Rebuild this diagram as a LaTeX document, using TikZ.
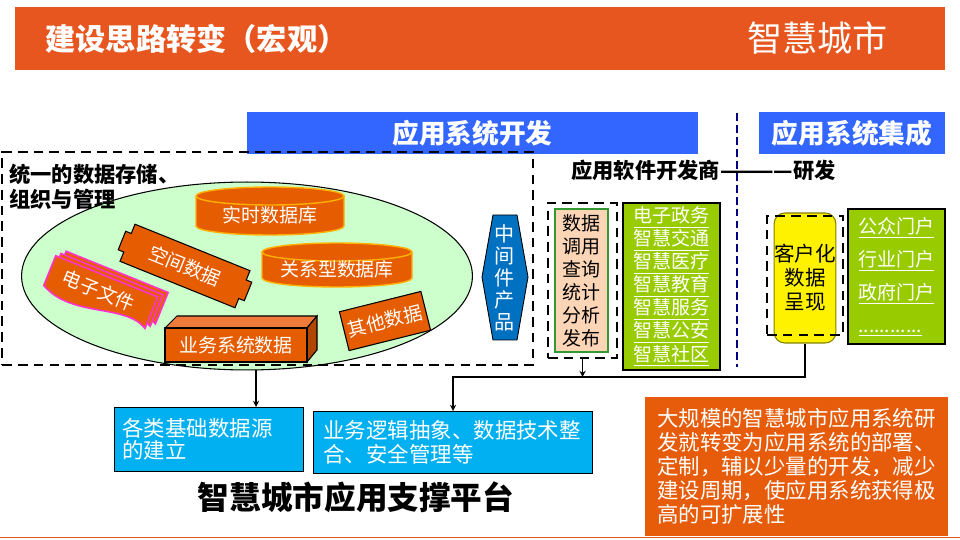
\documentclass[tikz,border=0pt]{standalone}
\usepackage{fontspec}
\setmainfont{Noto Sans CJK SC}
\usetikzlibrary{shapes.geometric}
\definecolor{headorange}{HTML}{E8561F}
\definecolor{dataorange}{HTML}{E65C00}
\definecolor{noteorange}{HTML}{E65C0A}
\definecolor{barblue}{HTML}{3366FF}
\definecolor{poolgreen}{HTML}{CCFFCC}
\definecolor{midblue}{HTML}{0070C0}
\definecolor{callbeige}{HTML}{FBD5B5}
\definecolor{callgreen}{HTML}{339933}
\definecolor{appgreen}{HTML}{99CC00}
\definecolor{basecyan}{HTML}{00B0F0}
\definecolor{sepnavy}{HTML}{000080}
\definecolor{cylrim}{HTML}{FFB000}
\definecolor{filepink}{HTML}{FF33CC}
\definecolor{cubetop}{HTML}{EE7B3A}
\definecolor{cubeside}{HTML}{B04600}
\definecolor{custolive}{HTML}{808000}
\newcommand{\pxu}{0.5690pt}
\newcommand{\dbcyl}[6]{\filldraw[cylbody] (#1-#4,#2) -- (#1-#4,#3) arc[start angle=180,end angle=0,x radius=#4,y radius=9] -- (#1+#4,#2) -- cycle;
  \filldraw[cylbody] (#1,#2) ellipse[x radius=#4,y radius=9];
  \node[datatext] (#5) at (#1,{(#2+#3)/2+4}) {#6};}
\newcommand{\filesheet}[2]{\filldraw[efile] (-55+#1,-18+#2) -- (55+#1,-18+#2) -- (55+#1,16+#2) .. controls (28+#1,0+#2) and (-18+#1,34+#2) .. (-55+#1,14+#2) -- cycle;}
\tikzset{
  headtext/.style={text=white, inner sep=0pt},
  bluebar/.style={fill=barblue, text=white, inner sep=0pt, font={\fontsize{15.2pt}{18pt}\selectfont\bfseries}},
  zone/.style={draw, line width=1.1pt, dash pattern=on 5.5pt off 3.5pt, inner sep=0pt},
  zonelabel/.style={inner sep=0pt, align=left, font={\fontsize{12.1pt}{14.2pt}\selectfont\bfseries}},
  datatext/.style={text=white, inner sep=0pt, font={\fontsize{10.8pt}{13.1pt}\selectfont}},
  datashape/.style={fill=dataorange, draw=black, line width=0.6pt},
  cylbody/.style={fill=dataorange, draw=cylrim, line width=0.8pt},
  efile/.style={fill=dataorange, draw=filepink, line width=0.9pt},
  cubeface/.style={draw=black, line width=0.6pt},
  midtext/.style={text=white, inner sep=0pt, align=center, font={\fontsize{11.4pt}{12.5pt}\selectfont}},
  listbox/.style={fill=appgreen, draw=black, line width=0.6pt, text=white, inner sep=0pt, align=center, font={\fontsize{10.8pt}{13.1pt}\selectfont}},
  cyanbox/.style={fill=basecyan, draw=black, line width=0.6pt, text=white, align=left, inner ysep=0pt, font={\fontsize{12.2pt}{12.5pt}\selectfont}},
  notebox/.style={fill=noteorange, text=white, align=left, inner sep=0pt, font={\fontsize{12.2pt}{13.7pt}\selectfont}},
  sepline/.style={sepnavy, line width=1.6pt, dash pattern=on 4.5pt off 2.3pt},
  link/.style={draw, line width=0.6pt, -stealth}
}
\begin{document}
\begin{tikzpicture}[x=0.02cm, y=-0.02cm]
\useasboundingbox (0,0) rectangle (960,540);
\fill[headorange] (15,7) rectangle (945,70);
\node[headtext, anchor=west, font={\fontsize{17.2pt}{20pt}\selectfont\bfseries}] (title) at (45,39) {建设思路转变（宏观）};
\node[headtext, anchor=east, font={\fontsize{20pt}{24pt}\selectfont}] (brand) at (888,38) {智慧城市};

\node[bluebar, minimum width={451*\pxu}, minimum height={42*\pxu}] (devbar) at (472.5,133) {应用系统开发};
\node[bluebar, minimum width={186*\pxu}, minimum height={42*\pxu}] (intbar) at (852,133) {应用系统集成};
\draw[sepline] (737,113) -- (737,367);

\node[ellipse, fill=poolgreen, draw, line width=0.6pt, minimum width={451*\pxu}, minimum height={188*\pxu}] (pool) at (247,276) {};
\node[zonelabel, anchor=north west] (storelabel) at (9,164) {统一的数据存储、\\组织与管理};
\dbcyl{270}{196}{226}{74}{rtdb}{实时数据库}
\dbcyl{337}{252}{278}{75}{reldb}{关系型数据库}

\begin{scope}[shift={(185,266)}, rotate=-22]
  \filldraw[datashape] (-62,-20) -- (62,-20) -- (62,-10) -- (68,-10) -- (68,10) -- (62,10) -- (62,20) -- (-62,20) -- (-62,10) -- (-68,10) -- (-68,-10) -- (-62,-10) -- cycle;
  \node[datatext, rotate=-22] (spatial) at (0,0) {空间数据};
\end{scope}

\begin{scope}[shift={(100,293)}, rotate=-22]
  \filesheet{8}{-8}
  \filesheet{4}{-4}
  \filesheet{0}{0}
  \node[datatext, rotate=-22] (efiles) at (-2,-2) {电子文件};
\end{scope}

\filldraw[cubeface, fill=cubetop] (165,328) -- (177,316) -- (317,316) -- (307,328) -- cycle;
\filldraw[cubeface, fill=cubeside] (307,328) -- (317,316) -- (317,350) -- (307,362) -- cycle;
\node[datashape, datatext, draw=black, minimum width={142*\pxu}, minimum height={34*\pxu}] (bizdata) at (236,345) {业务系统数据};
\node[datashape, datatext, draw=black, rotate=14, minimum width={84*\pxu}, minimum height={40*\pxu}] (otherdata) at (385,321) {其他数据};

\filldraw[fill=midblue, draw=black, line width=0.5pt] (493,215) -- (517,215) -- (528,277) -- (517,340) -- (493,340) -- (482,277) -- cycle;
\node[midtext] (midware) at (505,278) {中\\间\\件\\产\\品};

\node[zone, minimum width={531*\pxu}, minimum height={213*\pxu}] (storezone) at (267.5,258.5) {};

\node[zonelabel, anchor=west] (devco) at (571,170) {应用软件开发商————研发};

\node[fill=callbeige, draw=callgreen, line width=0.6pt, inner sep=0pt, align=center, minimum width={53*\pxu}, minimum height={143*\pxu}, font={\fontsize{10.8pt}{13.1pt}\selectfont}] (callbox) at (581.5,280.5) {数据\\调用\\查询\\统计\\分析\\发布};
\node[zone, minimum width={69*\pxu}, minimum height={155*\pxu}] (calldash) at (582.5,280.5) {};
\node[listbox, minimum width={97*\pxu}, minimum height={167*\pxu}] (applist) at (671.5,286.5) {\underline{电子政务}\\\underline{智慧交通}\\\underline{智慧医疗}\\\underline{智慧教育}\\\underline{智慧服务}\\\underline{智慧公安}\\\underline{智慧社区}};

\node[fill=yellow, draw=custolive, line width=0.6pt, rounded corners=6pt, inner sep=0pt, align=center, minimum width={60*\pxu}, minimum height={130*\pxu}, font={\fontsize{11.7pt}{13.6pt}\selectfont}] (custbox) at (805,278) {客户化\\数据\\呈现};
\node[zone, minimum width={76*\pxu}, minimum height={119*\pxu}] (custdash) at (805,275.5) {};
\node[listbox, align=left, minimum width={97*\pxu}, minimum height={135*\pxu}, font={\fontsize{10.8pt}{18.8pt}\selectfont}] (portals) at (896.5,276.5) {\underline{公众门户}\\\underline{行业门户}\\\underline{政府门户}\\\underline{............}};

\node[cyanbox, anchor=north west, text width=98.4pt, minimum height={64*\pxu}, inner xsep={8*\pxu}] (basebox) at (114,407) {各类基础数据源\\的建立};
\node[cyanbox, anchor=north west, text width=147.4pt, minimum height={62*\pxu}, inner xsep={10*\pxu}, font={\fontsize{12.2pt}{14pt}\selectfont}] (logicbox) at (313,411) {业务逻辑抽象、数据技术整\\合、安全管理等};
\node[inner sep=0pt, font={\fontsize{18pt}{21pt}\selectfont\bfseries}] (platform) at (356,497) {智慧城市应用支撑平台};

\node[notebox, minimum width={303*\pxu}, minimum height={139*\pxu}] (note) at (796.5,466.5) {大规模的智慧城市应用系统研\\发就转变为应用系统的部署、\\定制，辅以少量的开发，减少\\建设周期，使应用系统获得极\\高的可扩展性};
\draw[headorange, line width=1pt] (0,537.5) -- (960,537.5);

\coordinate (drop) at (256,370);
\draw[link] (drop) -- (drop |- basebox.north);
\coordinate (join) at (453,377);
\draw[link] (custbox.south) |- (join) -- (join |- logicbox.north);
\draw[link] (calldash.south) -- (calldash.south |- join);
\end{tikzpicture}
\end{document}
